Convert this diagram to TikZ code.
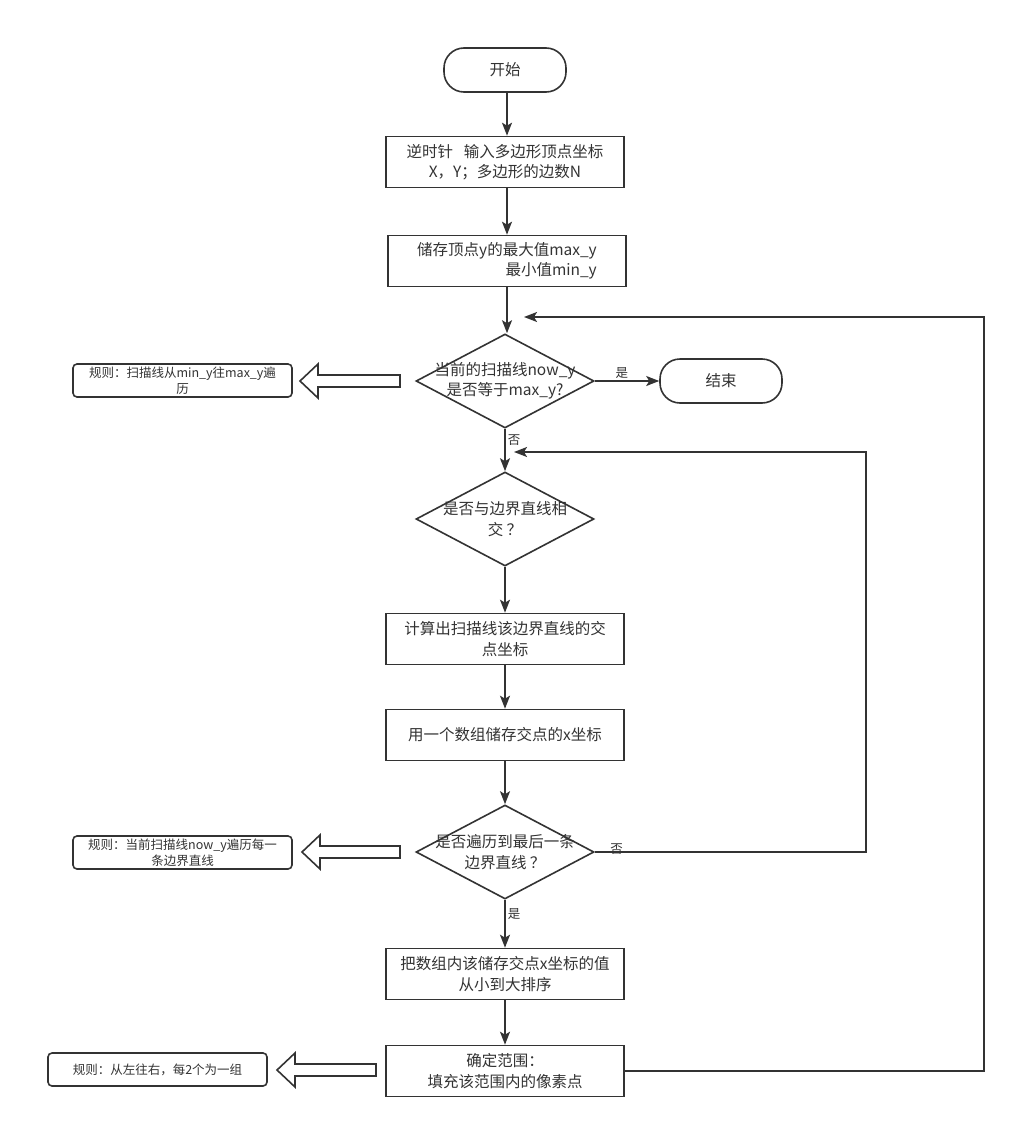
\documentclass[tikz,border=0pt]{standalone}
\usepackage{fontspec}
\setmainfont{Noto Sans CJK SC}
\usetikzlibrary{shapes.geometric,arrows.meta}
\definecolor{lc}{HTML}{333333}
\definecolor{tc}{HTML}{333333}
\newcommand\fmain{\fontsize{15.5}{20.5}\selectfont}
\newcommand\frule{\fontsize{12.5}{16}\selectfont}
\newcommand\flab{\fontsize{12.5}{15}\selectfont}
\tikzset{
  box/.style={draw=lc, line width=1.6pt, minimum width=238pt, minimum height=51pt, inner sep=0pt, align=center, font=\fmain, text=tc},
  term/.style={draw=lc, line width=1.6pt, rounded corners=20pt, minimum width=122pt, minimum height=44pt, inner sep=0pt, font=\fmain, text=tc},
  dia/.style={draw=lc, line width=1.6pt, shape=diamond, minimum width=178pt, minimum height=94pt, inner sep=0pt},
  dtext/.style={align=center, font=\fmain, text=tc, inner sep=0pt},
  rulebox/.style={draw=lc, line width=1.6pt, rounded corners=4pt, minimum width=219pt, minimum height=33pt, inner sep=0pt, align=center, font=\frule, text=tc},
  arr/.style={draw=lc, line width=1.6pt, -{Stealth[length=13pt,width=10pt,inset=3pt]}},
  conn/.style={draw=lc, line width=1.6pt},
  lab/.style={font=\flab, text=tc, inner sep=2pt},
  blk/.style={draw=lc, line width=1.6pt, fill=white, line join=miter}
}
\newcommand\blockarrow[3]{%
  \draw[blk] (#1,#3-6) -- (#2+18,#3-6) -- (#2+18,#3-17) -- (#2,#3) -- (#2+18,#3+17) -- (#2+18,#3+6) -- (#1,#3+6) -- cycle;}
\begin{document}
\begin{tikzpicture}[x=1pt,y=-1pt]
\fill[white] (0,0) rectangle (1016,1129);
\useasboundingbox (0,0) rectangle (1016,1129);

\node[term] (start) at (505,70) {开始};
\node[box] (b1) at (505,162) {逆时针\hspace{0.7em}输入多边形顶点坐标\\X，Y；多边形的边数N};
\node[box, align=right] (b2) at (507,261) {储存顶点y的最大值max\_y\\最小值min\_y};
\node[dia] (d1) at (505,381) {};
\node[dtext] (d1t) at (d1.center) {当前的扫描线now\_y\\是否等于max\_y?};
\node[term] (end) at (721,381) {结束};
\node[rulebox] (r1) at (182.5,380.5) {规则：扫描线从min\_y往max\_y遍\\历};
\node[dia] (d2) at (505,519) {};
\node[dtext] (d2t) at (d2.center) {是否与边界直线相\\交 ？};
\node[box] (b3) at (505,639) {计算出扫描线该边界直线的交\\点坐标};
\node[box] (b4) at (505,735) {用一个数组储存交点的x坐标};
\node[dia] (d3) at (505,852) {};
\node[dtext] (d3t) at (d3.center) {是否遍历到最后一条\\边界直线 ？};
\node[rulebox] (r2) at (182.5,852.5) {规则：当前扫描线now\_y遍历每一\\条边界直线};
\node[box] (b5) at (505,974) {把数组内该储存交点x坐标的值\\从小到大排序};
\node[box] (b6) at (505,1071) {确定范围：\\填充该范围内的像素点};
\node[rulebox] (r3) at (157.5,1069.5) {规则：从左往右，每2个为一组};

\blockarrow{400}{300}{381}
\blockarrow{400}{302}{852}
\blockarrow{376}{277}{1070}

\draw[arr] (start.south -| b2.center) -- (b1.north -| b2.center);
\draw[arr] (b1.south -| b2.center) -- (b2.north);
\draw[arr] (b2.south) -- (b2.south |- d1.north);
\draw[arr] (d1.east) -- node[lab, pos=0.42, above]{是} (end.west);
\draw[arr] (d1.south) -- node[lab, pos=0.26, right]{否} (d2.north);
\draw[arr] (d2.south) -- (b3);
\draw[arr] (b3) -- (b4);
\draw[arr] (b4) -- (d3.north);
\draw[arr] (d3.south) -- node[lab, pos=0.3, right]{是} (b5);
\draw[arr] (b5) -- (b6);

\coordinate (c1) at (866,852);
\coordinate (c2) at (866,452);
\coordinate (j1) at (514,452);
\draw[arr] (d3.east) -- node[lab, pos=0.08, anchor=south, yshift=-5pt]{否} (c1) -- (c2) -- (j1);

\coordinate (c3) at (984,1071);
\coordinate (c4) at (984,317);
\coordinate (j2) at (524,317);
\draw[arr] (b6.east) -- (c3) -- (c4) -- (j2);
\end{tikzpicture}
\end{document}
